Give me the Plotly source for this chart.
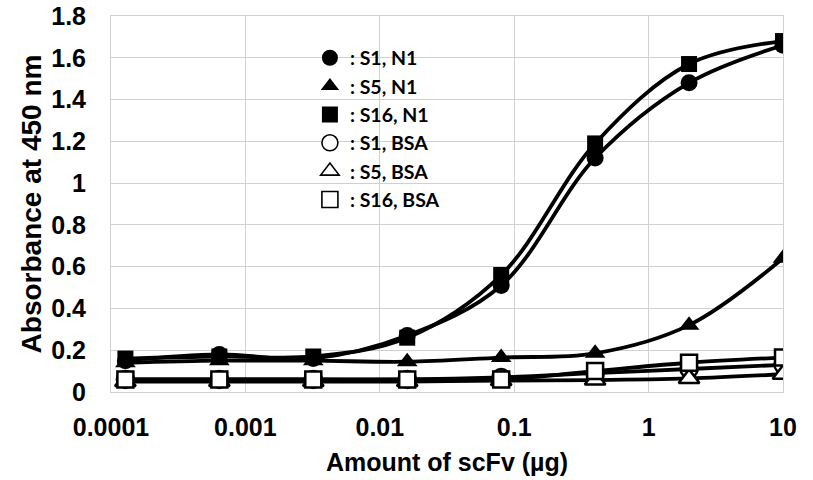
import plotly.graph_objects as go

amounts = [0.000128, 0.00064, 0.0032, 0.016, 0.08, 0.4, 2, 10]

s1_n1 = [0.15, 0.18, 0.16, 0.27, 0.51, 1.12, 1.48, 1.66]
s5_n1 = [0.14, 0.15, 0.15, 0.145, 0.165, 0.185, 0.32, 0.64]
s16_n1 = [0.16, 0.17, 0.17, 0.26, 0.56, 1.19, 1.57, 1.68]
s1_bsa = [0.06, 0.06, 0.06, 0.06, 0.07, 0.09, 0.11, 0.13]
s5_bsa = [0.05, 0.05, 0.05, 0.05, 0.055, 0.057, 0.065, 0.085]
s16_bsa = [0.06, 0.06, 0.06, 0.06, 0.06, 0.10, 0.14, 0.165]

series_names = [": S1, N1", ": S5, N1", ": S16, N1", ": S1, BSA", ": S5, BSA", ": S16, BSA"]
series_values = [s1_n1, s5_n1, s16_n1, s1_bsa, s5_bsa, s16_bsa]
symbols = ["circle", "triangle-up", "square", "circle-open", "triangle-up-open", "square-open"]

x_tickvals = [0.0001, 0.001, 0.01, 0.1, 1, 10]
x_ticktext = ["0.0001", "0.001", "0.01", "0.1", "1", "10"]
y_tickvals = [0, 0.2, 0.4, 0.6, 0.8, 1.0, 1.2, 1.4, 1.6, 1.8]
y_ticktext = ["0", "0.2", "0.4", "0.6", "0.8", "1", "1.2", "1.4", "1.6", "1.8"]

SIZES = {"circle": 17, "triangle-up": 18, "square": 16}

fig = go.Figure()

for name, vals, sym in zip(series_names, series_values, symbols):
    is_open = sym.endswith("open")
    base = sym.replace("-open", "")
    fig.add_trace(go.Scatter(
        x=amounts, y=vals, mode="lines+markers",
        line=dict(color="black", width=3.8, shape="spline", smoothing=1),
        marker=dict(symbol=base, size=SIZES[base],
                    color="white" if is_open else "black",
                    line=dict(color="black", width=2.5 if is_open else 0)),
        showlegend=False,
    ))

for i, (name, sym) in enumerate(zip(series_names, symbols)):
    is_open = sym.endswith("open")
    base = sym.replace("-open", "")
    fig.add_trace(go.Scatter(
        x=[None], y=[None], mode="markers", name=name,
        marker=dict(symbol=base, size=17,
                    color="white" if is_open else "black",
                    line=dict(color="black", width=1.6 if is_open else 0)),
    ))

fig.update_layout(
    width=813, height=480,
    margin=dict(l=111, r=30, t=16, b=88),
    paper_bgcolor="white", plot_bgcolor="white",
    font=dict(family="Liberation Sans, Arial", color="black"),
    showlegend=True,
    legend=dict(x=0.296, y=0.94, xanchor="left", yanchor="top",
                font=dict(family="Lato, Open Sans", size=19.5, color="black", weight="bold"),
                bgcolor="rgba(0,0,0,0)", itemwidth=30),
    xaxis=dict(type="log", range=[-4, 1], automargin=False,
               tickvals=x_tickvals, ticktext=x_ticktext,
               showgrid=True, gridcolor="#d0d0d0", gridwidth=1,
               showline=True, linecolor="#d0d0d0", mirror=True,
               ticks="", zeroline=False, ticklabelstandoff=13,
               ticklabeloverflow="allow",
               tickfont=dict(size=25, family="Liberation Sans, Arial", weight="bold"),
               title=dict(text="Amount of scFv (µg)", standoff=13,
                          font=dict(size=25, family="Liberation Sans, Arial", weight="bold"))),
    yaxis=dict(range=[0, 1.8], automargin=False,
               tickvals=y_tickvals, ticktext=y_ticktext,
               showgrid=True, gridcolor="#d0d0d0", gridwidth=1,
               showline=True, linecolor="#d0d0d0", mirror=True,
               ticks="", zeroline=False, ticklabelstandoff=19,
               ticklabeloverflow="allow",
               tickfont=dict(size=25, family="Liberation Sans, Arial", weight="bold"),
               title=dict(text="Absorbance at 450 nm", standoff=1,
                          font=dict(size=28, family="Liberation Sans, Arial", weight="bold"))),
)

fig.write_html("out.html", config={"displayModeBar": False},
               post_script="document.body.style.margin='0';")
